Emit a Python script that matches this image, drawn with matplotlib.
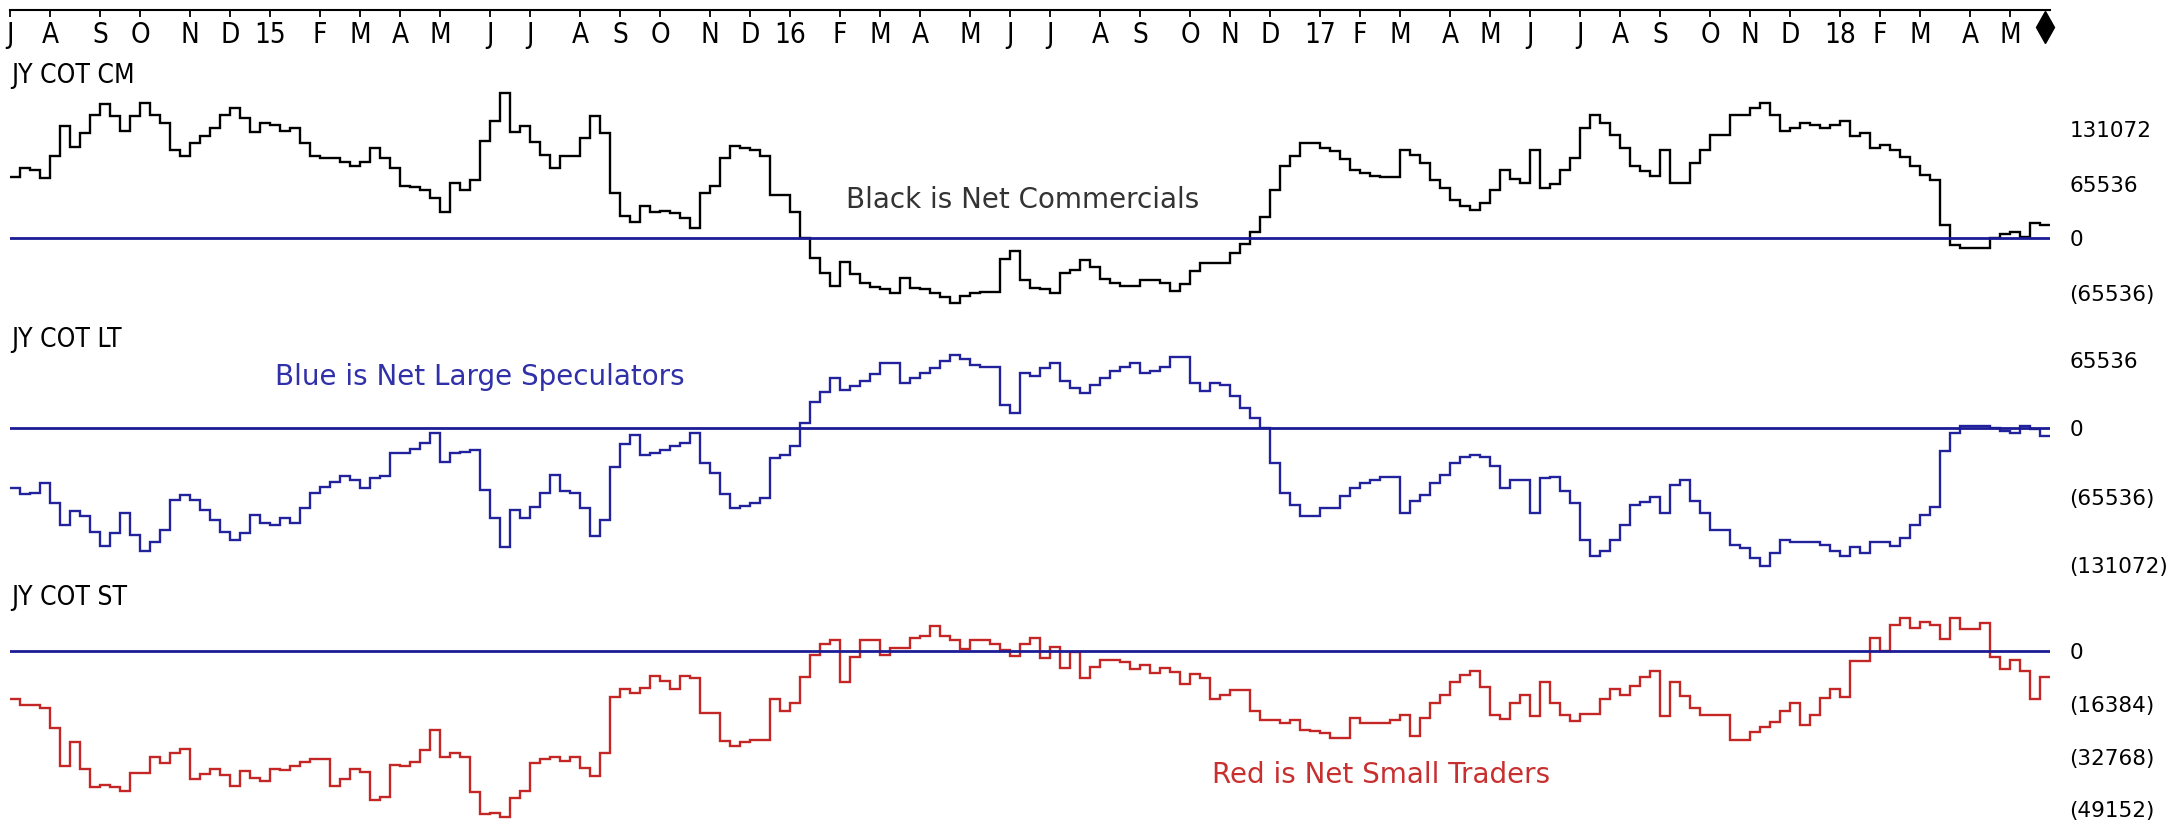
import numpy as np
import matplotlib.pyplot as plt

W, H = 2168, 822

# weekly net positions, thousands of contracts, Jul 2014 .. May 2018
commercials = [
    74.0, 84.0, 82.0, 72.0, 98.8, 134.8, 110.0, 126.0, 148.0, 161.2,
    146.8, 129.2, 146.8, 162.0, 148.0, 138.0, 106.0, 98.8, 114.0, 122.8,
    132.0, 148.0, 156.0, 144.0, 128.0, 138.0, 136.0, 129.2, 132.0, 114.8,
    98.8, 96.0, 96.0, 92.0, 86.8, 92.0, 108.0, 96.0, 84.0, 62.8,
    62.0, 58.0, 48.0, 32.0, 66.0, 58.0, 70.0, 117.2, 141.2, 174.0,
    128.0, 134.8, 116.0, 100.0, 84.0, 98.8, 98.8, 120.0, 146.8, 126.8,
    54.0, 26.8, 20.0, 38.8, 32.0, 32.8, 30.0, 24.0, 12.0, 54.0,
    62.8, 96.0, 110.8, 108.8, 106.0, 98.8, 52.0, 52.0, 32.0, 0.0,
    -24.0, -41.2, -57.2, -28.0, -42.8, -54.0, -58.0, -61.2, -66.0, -48.0,
    -60.0, -61.2, -66.0, -70.0, -77.2, -69.2, -66.0, -64.0, -64.0, -25.2,
    -14.8, -50.0, -60.0, -61.2, -66.0, -41.2, -38.0, -26.0, -34.8, -49.2,
    -54.0, -57.2, -57.2, -50.0, -50.0, -53.2, -62.8, -54.8, -38.8, -29.2,
    -29.2, -29.2, -17.2, -6.8, 8.0, 25.2, 58.0, 86.8, 98.8, 114.8,
    114.0, 108.0, 105.2, 94.8, 82.0, 78.0, 74.8, 73.2, 73.2, 106.0,
    100.0, 90.8, 70.0, 60.0, 46.0, 38.8, 34.0, 42.8, 58.0, 82.0,
    70.8, 66.8, 106.0, 60.0, 65.2, 82.0, 96.0, 132.0, 148.0, 138.0,
    124.0, 108.0, 86.8, 81.2, 74.8, 106.0, 66.0, 66.0, 90.8, 106.0,
    124.0, 124.0, 148.0, 148.0, 156.0, 162.0, 148.0, 129.2, 132.0, 138.0,
    136.0, 132.0, 136.0, 141.2, 122.8, 126.8, 108.0, 112.0, 106.0, 97.2,
    86.8, 76.0, 70.0, 16.0, -8.0, -12.0, -12.0, -12.0, 0.0, 5.2,
    8.0, 2.0, 18.8, 16.0]

large_specs = [
    -57.6, -63.0, -61.8, -52.2, -72.0, -92.8, -79.0, -84.2, -99.2, -113.0,
    -100.2, -81.0, -102.4, -117.4, -108.8, -97.6, -68.8, -64.0, -68.8, -78.4,
    -88.0, -99.2, -107.2, -100.8, -83.2, -91.2, -92.8, -86.4, -90.6, -76.8,
    -61.8, -56.0, -51.2, -45.8, -49.6, -57.6, -48.0, -45.8, -24.0, -23.4,
    -20.2, -13.8, -4.2, -32.0, -24.0, -22.4, -20.8, -59.2, -86.4, -113.6,
    -78.4, -86.4, -75.2, -61.8, -44.8, -59.8, -62.4, -76.8, -103.4, -88.0,
    -36.8, -15.0, -6.4, -25.6, -24.0, -20.8, -17.0, -14.4, -4.2, -33.0,
    -42.6, -63.0, -76.8, -74.6, -71.4, -67.2, -28.8, -25.6, -17.0, 4.8,
    25.6, 35.2, 48.0, 36.8, 40.6, 45.8, 52.2, 63.0, 63.0, 43.8,
    48.0, 52.8, 57.6, 65.0, 70.4, 66.2, 60.8, 58.6, 58.6, 22.4,
    14.4, 52.8, 50.2, 57.6, 63.0, 45.8, 38.4, 33.6, 41.6, 48.0,
    55.4, 58.6, 63.0, 52.8, 55.4, 58.6, 68.2, 68.2, 43.8, 36.2,
    43.2, 41.6, 31.0, 19.2, 9.6, 0.0, -33.6, -62.4, -73.6, -84.2,
    -84.2, -76.8, -76.8, -65.0, -57.6, -52.8, -49.6, -47.0, -47.0, -81.6,
    -69.4, -64.0, -52.2, -44.8, -33.0, -27.8, -25.6, -27.8, -36.2, -57.6,
    -49.6, -49.6, -81.6, -48.0, -47.0, -59.8, -71.4, -107.2, -122.6, -117.4,
    -107.2, -92.8, -73.6, -70.4, -65.6, -81.6, -54.4, -49.6, -69.4, -81.0,
    -97.6, -97.6, -112.0, -115.2, -124.8, -132.2, -119.4, -107.2, -108.8, -108.8,
    -108.8, -112.0, -117.4, -122.6, -114.2, -120.0, -108.8, -108.8, -113.0, -105.6,
    -92.8, -83.2, -75.8, -21.4, -4.2, 2.2, 2.2, 2.2, 0.0, -2.2,
    -4.8, 2.2, -1.0, -7.4]

small_traders = [
    -14.8, -16.8, -16.8, -17.6, -23.8, -35.8, -28.3, -36.6, -42.3, -41.6,
    -42.3, -43.3, -37.8, -37.8, -32.8, -34.8, -31.8, -30.3, -39.8, -38.3,
    -36.6, -38.6, -41.8, -37.3, -39.3, -40.3, -36.6, -36.8, -35.8, -34.6,
    -33.6, -33.6, -41.8, -39.8, -36.6, -37.6, -46.3, -45.3, -35.3, -35.8,
    -34.6, -30.6, -24.6, -32.8, -31.8, -32.8, -43.8, -50.6, -50.3, -51.4,
    -45.6, -43.3, -34.8, -33.6, -33.0, -34.3, -33.0, -36.3, -38.8, -31.8,
    -14.3, -11.8, -13.0, -11.6, -7.8, -9.3, -11.8, -7.8, -8.6, -19.3,
    -19.3, -28.0, -29.6, -28.3, -27.6, -27.6, -14.8, -18.6, -16.3, -8.0,
    -1.3, 2.2, 3.4, -9.8, -1.8, 3.2, 3.4, -1.3, 0.7, 0.7,
    4.0, 4.7, 7.7, 4.7, 3.4, 0.4, 3.2, 3.2, 2.2, 0.2,
    -1.6, 2.2, 4.0, -2.3, 1.0, -5.3, -0.3, -8.3, -5.0, -2.8,
    -2.8, -3.6, -5.8, -4.3, -6.8, -5.3, -6.6, -10.3, -7.3, -8.6,
    -14.8, -13.8, -12.3, -12.3, -18.6, -21.6, -21.6, -22.3, -21.6, -24.6,
    -24.8, -25.6, -27.0, -27.0, -20.8, -22.3, -22.3, -22.3, -21.6, -19.8,
    -26.3, -20.8, -16.3, -13.6, -9.8, -7.6, -6.3, -11.3, -20.0, -21.0,
    -16.3, -13.6, -20.3, -9.6, -16.3, -19.8, -21.8, -19.6, -19.6, -14.8,
    -12.0, -13.6, -10.8, -8.0, -6.3, -20.3, -9.6, -14.0, -17.8, -19.8,
    -19.8, -19.8, -27.8, -27.6, -25.3, -23.6, -22.0, -18.8, -16.3, -23.0,
    -19.8, -14.6, -11.8, -14.3, -3.3, -3.3, 4.0, 0.0, 8.0, 10.2,
    7.0, 9.0, 8.0, 3.7, 10.2, 6.7, 6.7, 8.7, -1.8, -5.6,
    -2.8, -6.3, -14.8, -8.0]

# first week of each month on the date scale
month_weeks = [0, 4, 9, 13, 18, 22, 26, 31, 35, 39, 43, 48, 52, 57, 61, 65,
               70, 74, 78, 83, 87, 91, 96, 100, 104, 109, 113, 118, 122, 126,
               131, 135, 139, 144, 148, 152, 157, 161, 165, 170, 174, 178,
               183, 187, 191, 196, 200]
month_labels = ['J', 'A', 'S', 'O', 'N', 'D', '15', 'F', 'M', 'A', 'M', 'J',
                'J', 'A', 'S', 'O', 'N', 'D', '16', 'F', 'M', 'A', 'M', 'J',
                'J', 'A', 'S', 'O', 'N', 'D', '17', 'F', 'M', 'A', 'M', 'J',
                'J', 'A', 'S', 'O', 'N', 'D', '18', 'F', 'M', 'A', 'M']

cm_ticks = [131.072, 65.536, 0, -65.536]
cm_labels = ['131072', '65536', '0', '(65536)']
lt_ticks = [65.536, 0, -65.536, -131.072]
lt_labels = ['65536', '0', '(65536)', '(131072)']
st_ticks = [0, -16.384, -32.768, -49.152]
st_labels = ['0', '(16384)', '(32768)', '(49152)']

zero_col = '#1c1c96'
n = len(commercials)
edges = np.arange(n + 1)

fig = plt.figure(figsize=(W / 100, H / 100), dpi=100)
fig.patch.set_facecolor('white')


def panel(top, bottom, zero, px_per_k, ticks, labels):
    ax = fig.add_axes([10 / W, 1 - bottom / H, 2040 / W, (bottom - top) / H])
    ax.patch.set_alpha(0)
    ax.set_xlim(0, n)
    ax.set_ylim(-(bottom - zero) / px_per_k, (zero - top) / px_per_k)
    for s in ax.spines.values():
        s.set_visible(False)
    ax.set_xticks([])
    ax.yaxis.tick_right()
    ax.set_yticks(ticks, labels)
    ax.tick_params(axis='y', length=0, pad=14, labelsize=15.5)
    ax.axhline(0, color=zero_col, lw=2)
    return ax


ax1 = panel(55, 320, 238.3, 0.8333, cm_ticks, cm_labels)
ax1.stairs(commercials, edges, baseline=None, color='black', lw=1.7)

ax2 = panel(320, 580, 428.3, 1.0417, lt_ticks, lt_labels)
ax2.stairs(large_specs, edges, baseline=None, color='#22229c', lw=1.7)

ax3 = panel(560, 822, 650.7, 3.23, st_ticks, st_labels)
ax3.stairs(small_traders, edges, baseline=None, color='#c42626', lw=1.7)

# date scale on top
ax0 = fig.add_axes([10 / W, 1 - 10 / H, 2040 / W, 10 / H])
ax0.patch.set_alpha(0)
ax0.set_xlim(0, n)
for side in ['top', 'left', 'right']:
    ax0.spines[side].set_visible(False)
ax0.spines['bottom'].set_linewidth(1.5)
ax0.set_yticks([])
ax0.set_xticks(month_weeks, month_labels)
for lab in ax0.get_xticklabels():
    lab.set_fontsize(20)
    lab.set_fontstretch('condensed')
ax0.tick_params(axis='x', direction='out', length=5, width=1.3, pad=3)
ax0.plot([n - 0.5], [-1.7], marker='d', ms=16, color='black', clip_on=False,
         transform=ax0.get_xaxis_transform())

for y, name in [(76, 'JY COT CM'), (340, 'JY COT LT'), (598, 'JY COT ST')]:
    fig.text(11 / W, 1 - y / H, name, fontsize=19, fontstretch='condensed',
             va='center')

fig.text(846 / W, 1 - 200 / H, 'Black is Net Commercials', fontsize=20,
         color='#333333', va='center')
fig.text(275 / W, 1 - 377 / H, 'Blue is Net Large Speculators', fontsize=20,
         color='#3030a8', va='center')
fig.text(1212 / W, 1 - 775 / H, 'Red is Net Small Traders', fontsize=20,
         color='#c83030', va='center')

fig.savefig('out.png', dpi=100)
